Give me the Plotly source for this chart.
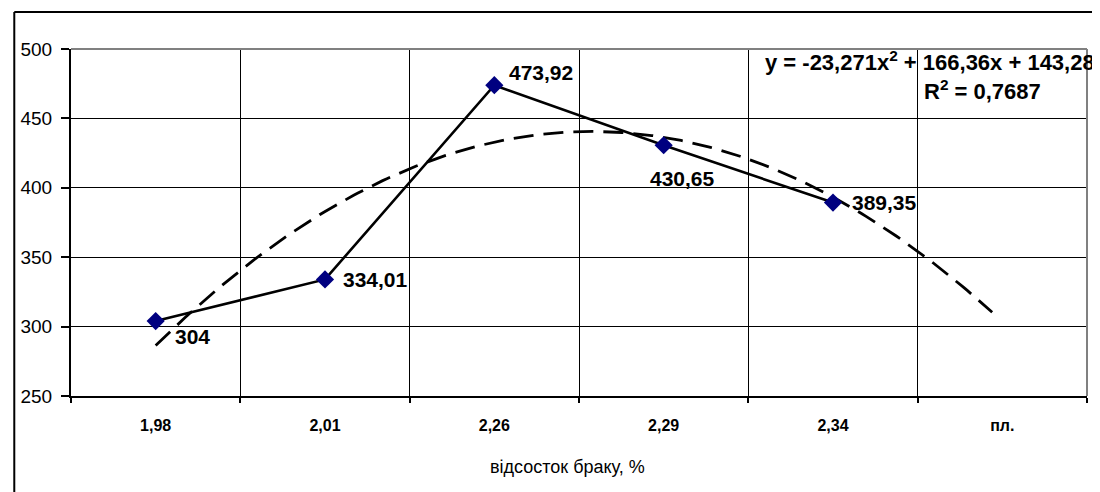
import numpy as np
import plotly.graph_objects as go

# ---- data ----
categories = ["1,98", "2,01", "2,26", "2,29", "2,34", "пл."]
values = [304, 334.01, 473.92, 430.65, 389.35]
value_labels = ["304", "334,01", "473,92", "430,65", "389,35"]
trend_coef = [-23.271, 166.36, 143.28]   # y = a x^2 + b x + c (x = category index)
trend_eq = "y = -23,271x<sup>2</sup> + 166,36x + 143,28"
trend_r2 = "R<sup>2</sup> = 0,7687"
y_ticks = [250, 300, 350, 400, 450, 500]
x_title = "відсосток браку, %"

# ---- geometry (page pixels; the page body has an 8px margin) ----
OFF = 8
W, H = 1092, 484
PL, PR, PT, PB = 66, 1087, 49, 396          # plot area in page pixels
ML, MT = PL - OFF, PT - OFF
MR = OFF + W - PR
MB = OFF + H - PB
pw = PR - PL
ph = PB - PT

def px_x(p):
    return (p - PL) / pw

def px_y(p):
    return (PB - p) / ph

xi = list(range(1, len(values) + 1))

fig = go.Figure()

# trendline
tx = np.linspace(1, 5.94, 200)
ty = np.polyval(trend_coef, tx)
fig.add_trace(go.Scatter(x=tx, y=ty, mode="lines",
                         line=dict(color="black", width=2.8, dash="20px,10px"),
                         hoverinfo="skip", showlegend=False))

# data series
fig.add_trace(go.Scatter(x=xi, y=values, mode="lines+markers",
                         line=dict(color="black", width=2.6),
                         marker=dict(symbol="diamond", size=14, color="#000080",
                                     line=dict(width=0)),
                         showlegend=False))

# data labels
offsets = [(17, -15, "left"), (16, 0, "left"), (13, 13, "left"), (19, -33, "center"), (17, 0, "left")]
annotations = []
for x, v, t, (dx, dy, anc) in zip(xi, values, value_labels, offsets):
    annotations.append(dict(x=x, y=v, xref="x", yref="y", text=t, showarrow=False,
                            xanchor=anc, yanchor="middle", xshift=dx, yshift=dy,
                            font=dict(family="Liberation Sans, Arial", size=21,
                                      color="black", weight="bold")))

# equation
annotations.append(dict(x=px_x(1097), y=px_y(61), xref="paper", yref="paper",
                        text=trend_eq, showarrow=False, xanchor="right", yanchor="middle",
                        font=dict(family="Liberation Sans, Arial", size=22,
                                  color="black", weight="bold")))
annotations.append(dict(x=px_x(982), y=px_y(90), xref="paper", yref="paper",
                        text=trend_r2, showarrow=False, xanchor="center", yanchor="middle",
                        font=dict(family="Liberation Sans, Arial", size=22,
                                  color="black", weight="bold")))
# axis title
annotations.append(dict(x=px_x(565), y=px_y(467), xref="paper", yref="paper",
                        text=x_title, showarrow=False, xanchor="center", yanchor="middle",
                        font=dict(family="Liberation Sans, Arial", size=18, color="black")))

shapes = [
    # gray top & right plot border
    dict(type="line", xref="paper", yref="paper", x0=0, x1=1, y0=1, y1=1,
         line=dict(color="#808080", width=2), layer="above"),
    dict(type="line", xref="paper", yref="paper", x0=1, x1=1, y0=0, y1=1,
         line=dict(color="#808080", width=2), layer="above"),
    # outer chart frame (left & top)
    dict(type="line", xref="paper", yref="paper", x0=px_x(9), x1=px_x(9), y0=px_y(12), y1=px_y(500),
         line=dict(color="black", width=2)),
    dict(type="line", xref="paper", yref="paper", x0=px_x(9), x1=px_x(1110), y0=px_y(12), y1=px_y(12),
         line=dict(color="black", width=2)),
]

fig.update_layout(
    width=W, height=H,
    margin=dict(l=ML, r=MR, t=MT, b=MB, pad=0),
    plot_bgcolor="white", paper_bgcolor="white",
    annotations=annotations, shapes=shapes,
    xaxis=dict(range=[0.5, len(categories) + 0.5],
               tickmode="array", tickvals=list(range(1, len(categories) + 1)),
               ticktext=categories, ticks="", showgrid=False,
               tickfont=dict(family="Liberation Sans, Arial", size=16, color="black", weight="bold"),
               ticklabelstandoff=14,
               showline=True, linecolor="black", linewidth=2, zeroline=False,
               minor=dict(tick0=0.5, dtick=1, showgrid=True, gridcolor="black", gridwidth=1.3,
                          ticks="outside", ticklen=5, tickcolor="black", tickwidth=1.5)),
    yaxis=dict(range=[250, 500], tickvals=y_ticks, ticks="outside", ticklen=8,
               tickcolor="black", tickwidth=1.5, ticklabelstandoff=5,
               showgrid=True, gridcolor="black", gridwidth=1.3,
               tickfont=dict(family="Liberation Sans, Arial", size=19, color="black"),
               showline=True, linecolor="black", linewidth=2, zeroline=False),
)

fig.write_html("out.html")
